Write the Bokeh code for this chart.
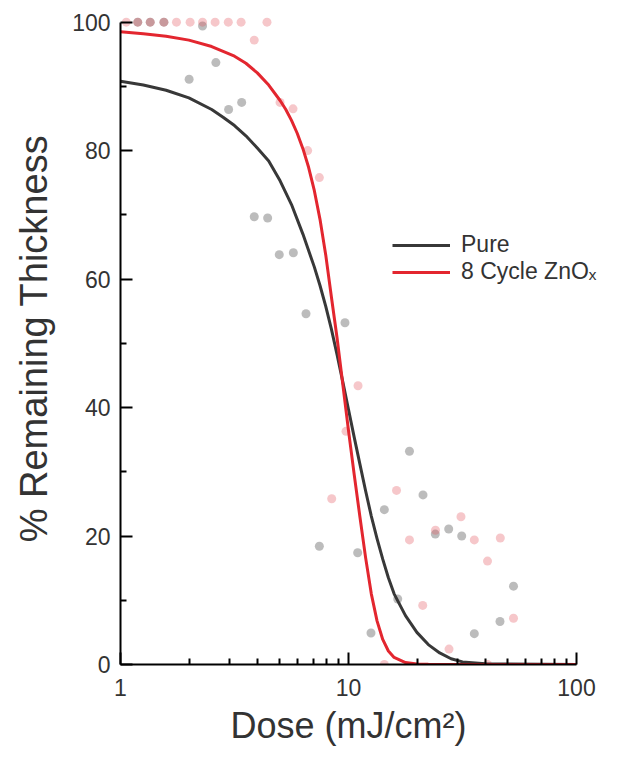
from bokeh.plotting import figure
from bokeh.models import Range1d, FixedTicker, Legend, LegendItem, Title
from bokeh.embed import file_html
from bokeh.resources import INLINE

# ---- data ----
pure_dose = [1.19, 1.35, 1.55, 2.29, 2.00, 2.62, 2.98, 3.40, 3.86, 4.42, 4.97, 5.73, 6.51, 9.65,
             7.45, 10.97, 12.55, 14.36, 16.44, 18.51, 21.22, 24.03, 27.51, 31.37, 35.63, 46.18, 52.93]
pure_thick = [100, 100, 100, 99.4, 91.1, 93.7, 86.4, 87.5, 69.7, 69.5, 63.8, 64.1, 54.6, 53.2,
              18.4, 17.4, 4.9, 24.1, 10.2, 33.2, 26.4, 20.3, 21.1, 20.0, 4.8, 6.7, 12.2]

zno_dose = [1.06, 1.19, 1.35, 1.55, 1.76, 2.02, 2.29, 2.60, 2.97, 3.38, 4.39, 3.86, 5.01, 5.71,
            6.62, 7.45, 11.01, 9.75, 8.44, 16.24, 18.51, 21.16, 24.07, 31.14, 35.63, 46.32,
            40.71, 52.93, 27.6, 14.36, 40.7]
zno_thick = [100, 100, 100, 100, 100, 100, 100, 100, 100, 100, 100, 97.2, 87.5, 86.5,
             80.0, 75.8, 43.4, 36.3, 25.8, 27.1, 19.4, 9.2, 20.9, 23.0, 19.4, 19.7,
             16.1, 7.2, 2.4, 0, 0]

# fitted curves
pure_fit_dose = [1.0, 1.259, 1.585, 1.995, 2.512, 2.818, 3.162, 3.548, 3.981, 4.467, 5.012,
                 5.623, 6.310, 7.079, 7.499, 7.943, 8.414, 8.913, 9.441, 10.0, 10.59, 11.22,
                 11.89, 12.59, 13.34, 14.13, 14.96, 15.85, 17.78, 19.95, 22.39, 25.12, 28.18,
                 31.62, 39.81, 100.0]
pure_fit_thick = [90.8, 90.2, 89.4, 88.2, 86.4, 85.2, 83.9, 82.3, 80.4, 78.4, 75.3,
                  71.6, 67.0, 61.9, 59.0, 55.8, 52.2, 48.2, 44.0, 39.7, 35.4, 31.2,
                  27.0, 23.1, 19.6, 16.4, 13.5, 11.0, 7.6, 5.0, 3.1, 1.8, 0.9,
                  0.4, 0.1, 0.0]

zno_fit_dose = [1.0, 1.259, 1.585, 1.995, 2.512, 3.162, 3.548, 3.981, 4.467, 5.012, 5.309,
                5.623, 5.957, 6.310, 6.683, 7.079, 7.499, 7.943, 8.414, 8.913, 9.441, 10.0,
                10.59, 11.22, 11.89, 12.59, 13.34, 14.13, 14.96, 15.85, 17.78, 19.95, 22.39,
                100.0]
zno_fit_thick = [98.5, 98.2, 97.8, 97.2, 96.2, 94.7, 93.6, 92.1, 90.2, 87.8, 86.4,
                 84.7, 82.7, 80.3, 77.4, 73.8, 69.3, 63.8, 57.2, 50.8, 43.6, 36.4,
                 29.6, 23.0, 16.6, 11.0, 6.8, 3.9, 2.1, 1.1, 0.3, 0.08, 0.02,
                 0.0]

x_major = [1, 10, 100]
x_minor = [2, 3, 4, 5, 6, 7, 8, 9, 20, 30, 40, 50, 60, 70, 80, 90]
y_major = [0, 20, 40, 60, 80, 100]
y_minor = [10, 30, 50, 70, 90]

FONT = "Liberation Sans"
TXT = "#333333"
BLACK = "#383838"
RED = "#e3262f"

# frame extends to the right of the x axis end (100) so the legend is not clipped
p = figure(width=617, height=754, x_axis_type="log",
           x_range=Range1d(1, 145.3), y_range=Range1d(0, 101.5),
           output_backend="svg", toolbar_location=None,
           min_border_left=120, min_border_right=4, min_border_top=12, min_border_bottom=90)
p.outline_line_color = None
p.xgrid.visible = False
p.ygrid.visible = False
p.background_fill_color = "white"
p.border_fill_color = "white"

p.scatter(pure_dose, pure_thick, size=9, fill_color="#7a7a7a", fill_alpha=0.5, line_color=None)
p.scatter(zno_dose, zno_thick, size=9, fill_color="#e2505a", fill_alpha=0.32, line_color=None)

r_pure = p.line(pure_fit_dose, pure_fit_thick, line_color=BLACK, line_width=3, line_join="round")
r_zno = p.line(zno_fit_dose, zno_fit_thick, line_color=RED, line_width=3, line_join="round")

for ax in (p.xaxis[0], p.yaxis[0]):
    ax.axis_line_color = "black"
    ax.axis_line_width = 2
    ax.major_tick_line_color = "black"
    ax.major_tick_line_width = 2
    ax.minor_tick_line_color = "black"
    ax.minor_tick_line_width = 2
    ax.major_tick_in = 12
    ax.major_tick_out = 0
    ax.minor_tick_in = 6
    ax.minor_tick_out = 0
    ax.major_label_text_font = FONT
    ax.major_label_text_font_size = "23px"
    ax.major_label_text_color = TXT
    ax.axis_label_text_font = FONT
    ax.axis_label_text_font_style = "normal"
    ax.axis_label_text_color = TXT

p.xaxis[0].ticker = FixedTicker(ticks=x_major, minor_ticks=x_minor)
p.xaxis[0].bounds = (1, 100)
p.xaxis[0].major_label_overrides = {1: "1", 10: "10", 100: "100"}
p.xaxis[0].major_label_standoff = 14

# x-axis title, centred under the drawn axis (1..100) rather than the wider frame
p.add_layout(Title(text="Dose (mJ/cm\u00b2)", align="left", offset=110, standoff=8,
                   text_font=FONT, text_font_size="36px", text_font_style="normal",
                   text_color=TXT), "below")

p.yaxis[0].ticker = FixedTicker(ticks=y_major, minor_ticks=y_minor)
p.yaxis[0].bounds = (0, 100)
p.yaxis[0].major_label_standoff = 10
p.yaxis[0].axis_label = "% Remaining Thickness"
p.yaxis[0].axis_label_text_font_size = "38px"
p.yaxis[0].axis_label_standoff = 14

legend = Legend(items=[LegendItem(label="Pure", renderers=[r_pure]),
                       LegendItem(label="8 Cycle ZnO\u2093", renderers=[r_zno])],
                location=(272, 379), orientation="vertical",
                background_fill_alpha=0, border_line_color=None,
                padding=0, margin=0, spacing=0,
                glyph_width=58, glyph_height=20, label_height=20, label_standoff=11,
                label_text_font=FONT, label_text_font_size="23px", label_text_color=TXT)
p.add_layout(legend)

open("out.html", "w").write(file_html(p, INLINE))
